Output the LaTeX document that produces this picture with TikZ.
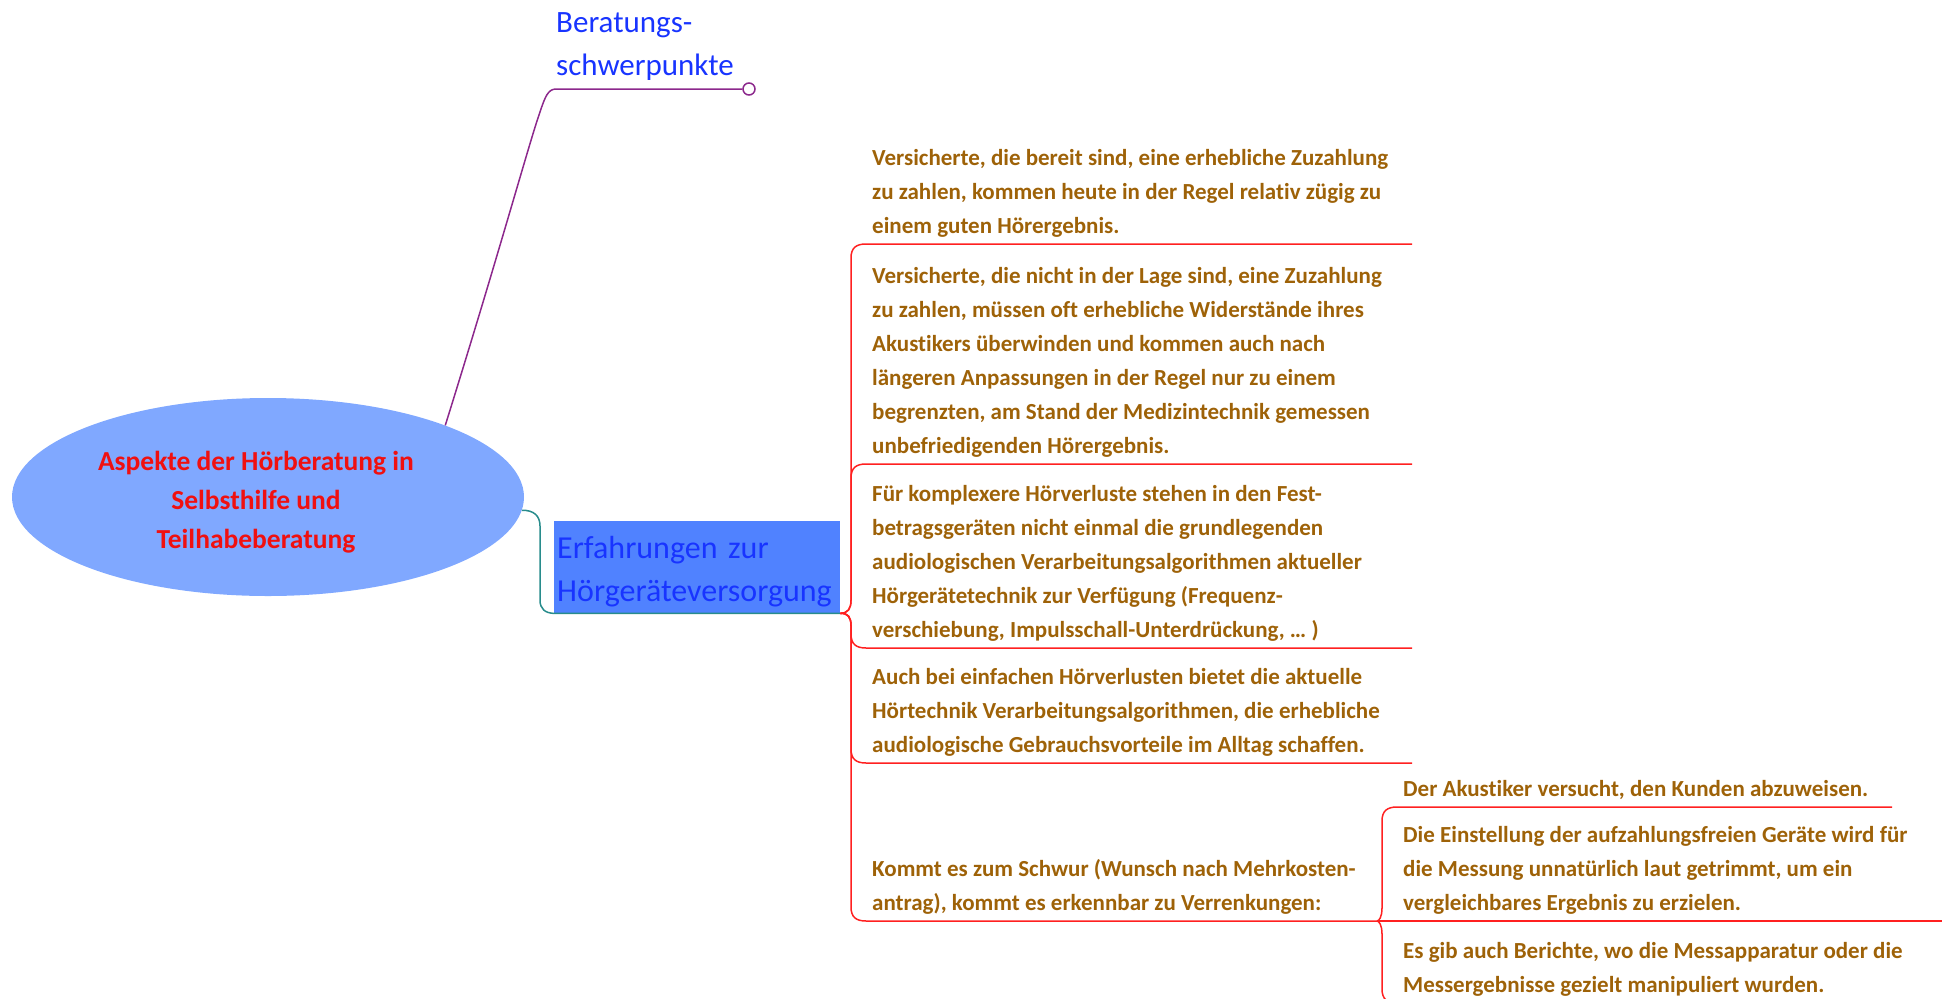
\documentclass[tikz,border=0pt]{standalone}
\usepackage{fontspec}
\setmainfont{Carlito}[Ligatures=NoCommon]
\usepackage{tikz}
\usetikzlibrary{shapes.geometric, positioning, calc}
\definecolor{topicBlue}{RGB}{128, 168, 255}
\definecolor{topicRed}{RGB}{240, 16, 16}
\definecolor{boxBlue}{RGB}{80, 130, 255}
\definecolor{headBlue}{RGB}{24, 52, 255}
\definecolor{detailBrown}{RGB}{158, 98, 8}
\definecolor{lineRed}{RGB}{255, 32, 32}
\definecolor{linePurple}{RGB}{140, 40, 140}
\definecolor{lineTeal}{RGB}{40, 140, 140}

\begin{document}
\begin{tikzpicture}[
    x=1pt, y=-1pt,
    topic/.style={
        ellipse,
        fill=topicBlue,
        minimum width=512pt,
        minimum height=198pt,
        inner sep=0pt
    },
    topictext/.style={
        align=center,
        text=topicRed,
        font=\bfseries\fontsize{27.5}{39}\selectfont
    },
    heading/.style={
        align=left,
        text=headBlue,
        font=\fontsize{31}{43}\selectfont
    },
    detail/.style={
        anchor=south west,
        align=left,
        inner xsep=6pt,
        inner ysep=0pt,
        text=detailBrown,
        font=\bfseries\fontsize{23}{34}\selectfont
    },
    rline/.style={draw=lineRed, line width=1.5pt},
    endcircle/.style={circle, draw=linePurple, fill=white, line width=1.5pt, minimum size=12pt, inner sep=0pt}
]
    \useasboundingbox (0,0) rectangle (1942,998);

    \node[topic] (aspekte) at (268,497) {};
    \node[topictext] (aspektetext) at (256,502) {Aspekte der Hörberatung in\\Selbsthilfe und\\Teilhabeberatung};

    \node[heading, anchor=south west, inner sep=0pt] (beratung) at (556,89) {Beratungs-\\schwerpunkte\strut};
    \node[endcircle] (ende) at (749,89) {};

    \node[heading, font=\fontsize{32}{43}\selectfont, anchor=north west, fill=boxBlue, text width=280pt, inner xsep=3pt, minimum height=92pt] (erfahrung) at (554,521) {Erfahrungen zur\strut\\Hörgeräteversorgung};
    \coordinate (hub) at (erfahrung.south east);

    \node[detail] (zuzahlung) at (866,244) {Versicherte, die bereit sind, eine erhebliche Zuzahlung\\zu zahlen, kommen heute in der Regel relativ zügig zu\\einem guten Hörergebnis.\strut};
    \node[detail] (keinezuzahlung) at (866,464) {Versicherte, die nicht in der Lage sind, eine Zuzahlung\\zu zahlen, müssen oft erhebliche Widerstände ihres\\Akustikers überwinden und kommen auch nach\\längeren Anpassungen in der Regel nur zu einem\\begrenzten, am Stand der Medizintechnik gemessen\\unbefriedigenden Hörergebnis.\strut};
    \node[detail] (komplex) at (866,648) {Für komplexere Hörverluste stehen in den Fest-\\betragsgeräten nicht einmal die grundlegenden\\audiologischen Verarbeitungsalgorithmen aktueller\\Hörgerätetechnik zur Verfügung (Frequenz-\\verschiebung, Impulsschall-Unterdrückung, … )\strut};
    \node[detail] (einfach) at (866,763) {Auch bei einfachen Hörverlusten bietet die aktuelle\\Hörtechnik Verarbeitungsalgorithmen, die erhebliche\\audiologische Gebrauchsvorteile im Alltag schaffen.\strut};
    \node[detail] (schwur) at (866,921) {Kommt es zum Schwur (Wunsch nach Mehrkosten-\\antrag), kommt es erkennbar zu Verrenkungen:\strut};

    \node[detail] (abweisen) at (1397,807) {Der Akustiker versucht, den Kunden abzuweisen.\strut};
    \node[detail] (einstellung) at (1397,921) {Die Einstellung der aufzahlungsfreien Geräte wird für\\die Messung unnatürlich laut getrimmt, um ein\\vergleichbares Ergebnis zu erzielen.\strut};
    \node[detail] (berichte) at (1397,1003) {Es gib auch Berichte, wo die Messapparatur oder die\\Messergebnisse gezielt manipuliert wurden.\strut};

    % main branches
    \draw[linePurple, line width=1.5pt] (aspekte.22) .. controls (500,250) and (530,140) .. (540,112) .. controls (545,97) and (548,89) .. (beratung.south west |- ende) -- (ende);
    \draw[lineTeal, line width=1.5pt] (aspekte.-3) .. controls (534,510) and (540,516) .. (540,526) -- (540,600) .. controls (540,609) and (545,613) .. (erfahrung.south west) -- (erfahrung.south east);

    % details
    \draw[rline] (hub) .. controls (848,613) and (851,609) .. (851,600) -- (851,258) .. controls (851,248) and (856,244) .. (zuzahlung.south west) -- ++(546,0);
    \draw[rline] (hub) .. controls (848,613) and (851,609) .. (851,600) -- (851,478) .. controls (851,468) and (856,464) .. (keinezuzahlung.south west) -- ++(546,0);
    \draw[rline] (hub) .. controls (848,613) and (851,617) .. (851,626) -- (851,634) .. controls (851,644) and (856,648) .. (komplex.south west) -- ++(546,0);
    \draw[rline] (hub) .. controls (848,613) and (851,617) .. (851,626) -- (851,749) .. controls (851,759) and (856,763) .. (einfach.south west) -- ++(546,0);
    \draw[rline] (hub) .. controls (848,613) and (851,617) .. (851,626) -- (851,907) .. controls (851,917) and (856,921) .. (schwur.south west) -- ++(511,0) coordinate (subhub);

    \draw[rline] (subhub) .. controls (1379,921) and (1382,917) .. (1382,908) -- (1382,821) .. controls (1382,811) and (1387,807) .. (abweisen.south west) -- ++(495,0);
    \draw[rline] (subhub) -- (einstellung.south west) -- ++(545,0);
    \draw[rline] (subhub) .. controls (1379,921) and (1382,925) .. (1382,934) -- (1382,989) .. controls (1382,999) and (1387,1003) .. (berichte.south west) -- ++(495,0);
\end{tikzpicture}
\end{document}
